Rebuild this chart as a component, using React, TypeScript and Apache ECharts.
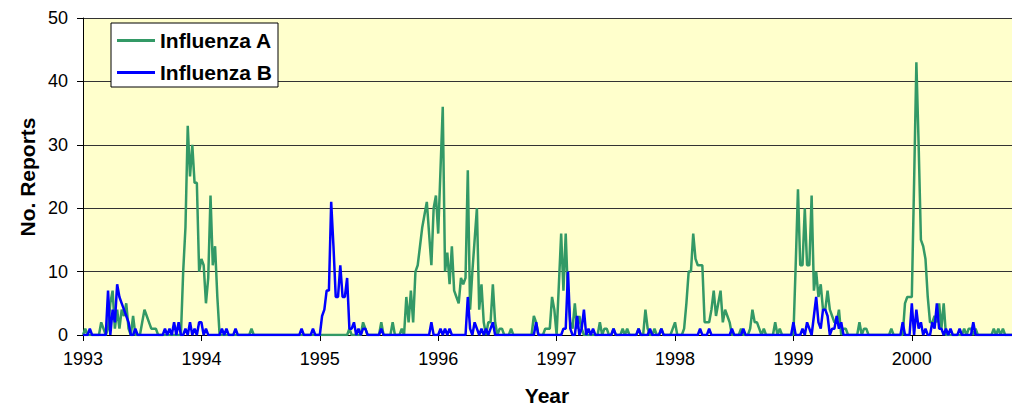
import React, { useEffect, useRef } from 'react';
import * as echarts from 'echarts';

const FONT = '"Liberation Sans", Arial, sans-serif';

const years = [1993, 1994, 1995, 1996, 1997, 1998, 1999, 2000];
const yTicks = [0, 10, 20, 30, 40, 50];
const seriesNames = ['Influenza A', 'Influenza B'];

// Weekly reports, 52 weeks per year (2000: weeks 1-45)
const fluA1993 = [0,1,0,0,0,0,0,0,2,1, 0,1,5,7,1,4,1,4,3,5, 1,0,3,0,0,0,2,4,3,2, 1,1,1,0,0,0,0,0,0,0, 0,0,0,0,10,17,33,25,30,24, 24,10];
const fluB1993 = [0,0,0,1,0,0,0,0,0,0, 0,7,0,4,2,8,6,5,4,3, 2,0,0,1,0,0,0,0,0,0, 0,0,0,0,0,0,1,0,1,0, 2,0,2,0,0,1,0,2,0,1, 0,2];
const fluA1994 = [12,11,5,9,22,11,14,6,0,0, 0,0,0,0,0,0,0,0,0,0, 0,0,1,0,0,0,0,0,0,0, 0,0,0,0,0,0,0,0,0,0, 0,0,0,0,0,0,0,0,0,0, 0,0];
const fluB1994 = [2,0,1,0,0,0,0,0,0,1, 0,1,0,0,0,1,0,0,0,0, 0,0,0,0,0,0,0,0,0,0, 0,0,0,0,0,0,0,0,0,0, 0,0,0,0,1,0,0,0,0,1, 0,0];
const fluA1995 = [0,0,0,0,0,0,0,0,0,0, 0,0,0,1,0,0,0,0,0,2, 1,0,0,0,0,0,0,2,0,0, 0,0,2,0,0,0,1,0,6,2, 7,2,10,11,14,17,19,21,16,11, 20,22];
const fluB1995 = [0,3,4,7,7,21,14,6,6,11, 6,6,9,1,1,2,0,1,0,1, 1,0,0,0,0,0,0,1,0,0, 0,0,0,0,0,0,0,0,0,0, 0,0,0,0,0,0,0,0,0,2, 0,0];
const fluA1996 = [16,26,36,10,13,8,14,7,6,5, 9,8,9,26,4,10,15,20,4,8, 2,0,2,2,8,2,0,1,1,0, 0,0,1,0,0,0,0,0,0,0, 0,0,3,2,0,0,0,1,1,1, 6,4];
const fluB1996 = [0,1,0,1,0,1,0,0,0,0, 0,0,0,6,1,0,2,1,0,1, 0,1,0,1,2,0,0,0,0,0, 0,0,0,0,0,0,0,0,0,0, 0,0,0,2,0,0,0,0,0,0, 0,0];
const fluA1997 = [0,8,16,7,16,6,2,1,5,1, 3,1,0,0,0,0,0,0,0,2, 0,1,1,0,0,1,0,0,0,1, 0,1,0,0,0,0,1,0,0,4, 1,0,0,1,0,0,1,0,0,0, 0,1];
const fluB1997 = [0,0,0,1,1,10,1,0,0,3, 0,1,4,0,1,0,1,0,0,0, 0,0,0,0,0,1,0,0,0,0, 0,0,0,0,0,0,1,0,0,0, 0,1,0,0,0,0,1,0,0,0, 0,0];
const fluA1998 = [2,0,0,0,1,5,10,10,16,12, 11,11,11,2,2,2,4,7,3,5, 7,2,4,3,2,0,0,0,0,1, 0,0,0,1,4,2,2,1,0,1, 0,0,0,0,2,0,1,0,0,0, 0,0];
const fluB1998 = [0,0,0,0,0,0,0,0,0,0, 0,1,0,0,0,1,0,0,0,0, 0,0,0,0,0,1,0,0,0,0, 1,0,0,0,0,0,0,0,0,0, 0,0,0,0,0,0,0,0,0,0, 0,0];
const fluA1999 = [0,11,23,11,11,20,11,11,22,7, 10,6,8,4,4,7,4,3,2,2, 4,0,1,1,0,0,0,0,0,2, 0,1,1,0,0,0,0,0,0,0, 0,0,0,1,0,0,0,0,0,5, 6,6];
const fluB1999 = [2,0,0,0,1,0,2,1,0,3, 6,2,1,4,4,3,0,1,1,3, 1,2,0,0,0,0,0,0,0,0, 0,0,0,0,0,0,0,0,0,0, 0,0,0,0,0,0,0,0,2,0, 0,0];
const fluA2000 = [6,24,43,30,15,14,12,6,2,2, 3,2,5,1,5,0,0,0,0,0, 0,0,0,1,0,1,1,0,1,0, 0,0,0,0,0,0,1,0,1,0, 1,0,0,0,0];
const fluB2000 = [5,0,4,1,2,0,1,0,0,2, 1,5,1,1,0,1,0,1,0,0, 0,1,0,0,0,0,0,2,0,0, 0,0,0,0,0,0,0,0,0,0, 0,0,0,0,0];

const fluA = [...fluA1993, ...fluA1994, ...fluA1995, ...fluA1996, ...fluA1997, ...fluA1998, ...fluA1999, ...fluA2000];
const fluB = [...fluB1993, ...fluB1994, ...fluB1995, ...fluB1996, ...fluB1997, ...fluB1998, ...fluB1999, ...fluB2000];

const WEEKS = 52;
const toPoints = (arr: number[]) => arr.map((v, i) => [years[0] + i / WEEKS, v]);
const XMAX = years[0] + (fluA.length - 1) / WEEKS;

export default function App() {
  const ref = useRef<HTMLDivElement>(null);
  useEffect(() => {
    document.body.style.margin = '0';
    const chart = echarts.init(ref.current!, null, { renderer: 'svg' });
    chart.setOption({
      animation: false,
      backgroundColor: '#ffffff',
      textStyle: { fontFamily: FONT },
      grid: {
        left: 83,
        top: 18,
        width: 929,
        height: 317,
        show: true,
        backgroundColor: '#FFFFCC',
        borderWidth: 0,
      },
      legend: {
        orient: 'vertical',
        left: 111,
        top: 23,
        backgroundColor: '#ffffff',
        borderColor: '#000000',
        borderWidth: 1,
        padding: [7, 6, 4, 6],
        itemWidth: 38,
        itemHeight: 3,
        itemGap: 11,
        icon: 'rect',
        textStyle: { fontSize: 21, fontWeight: 'bold', color: '#000', fontFamily: FONT },
        data: seriesNames,
      },
      xAxis: {
        type: 'value',
        min: years[0],
        max: XMAX,
        interval: 1,
        axisLine: { show: true, lineStyle: { color: '#000', width: 1 } },
        axisTick: { show: true, length: 6, lineStyle: { color: '#000' }, customValues: years },
        axisLabel: {
          customValues: years,
          fontSize: 18,
          color: '#000',
          margin: 15,
          fontFamily: FONT,
          formatter: (v: number) => (Number.isInteger(v) ? String(v) : ''),
        },
        splitLine: { show: false },
      },
      yAxis: {
        type: 'value',
        min: yTicks[0],
        max: yTicks[yTicks.length - 1],
        interval: 10,
        axisLine: { show: true, lineStyle: { color: '#000', width: 1 } },
        axisTick: { show: true, length: 6, lineStyle: { color: '#000' } },
        axisLabel: { fontSize: 18, color: '#000', margin: 15, fontFamily: FONT },
        splitLine: { show: true, lineStyle: { color: '#333', width: 1 } },
      },
      series: [
        {
          name: seriesNames[0],
          type: 'line',
          data: toPoints(fluA),
          symbol: 'none',
          showSymbol: false,
          lineStyle: { color: '#339966', width: 2.5 },
          itemStyle: { color: '#339966' },
        },
        {
          name: seriesNames[1],
          type: 'line',
          data: toPoints(fluB),
          symbol: 'none',
          showSymbol: false,
          lineStyle: { color: '#0000FF', width: 2.5 },
          itemStyle: { color: '#0000FF' },
        },
      ],
      graphic: [
        {
          type: 'text',
          x: 27,
          y: 177,
          rotation: Math.PI / 2,
          style: {
            text: 'No. Reports',
            font: `bold 21px ${FONT}`,
            fill: '#000',
            align: 'center',
            verticalAlign: 'middle',
            textAlign: 'center',
            textVerticalAlign: 'middle',
          },
        },
        {
          type: 'text',
          x: 547,
          y: 395,
          style: {
            text: 'Year',
            font: `bold 21px ${FONT}`,
            fill: '#000',
            align: 'center',
            verticalAlign: 'middle',
            textAlign: 'center',
            textVerticalAlign: 'middle',
          },
        },
      ],
    });
    return () => chart.dispose();
  }, []);
  return <div ref={ref} style={{ width: 1012, height: 407 }} />;
}
